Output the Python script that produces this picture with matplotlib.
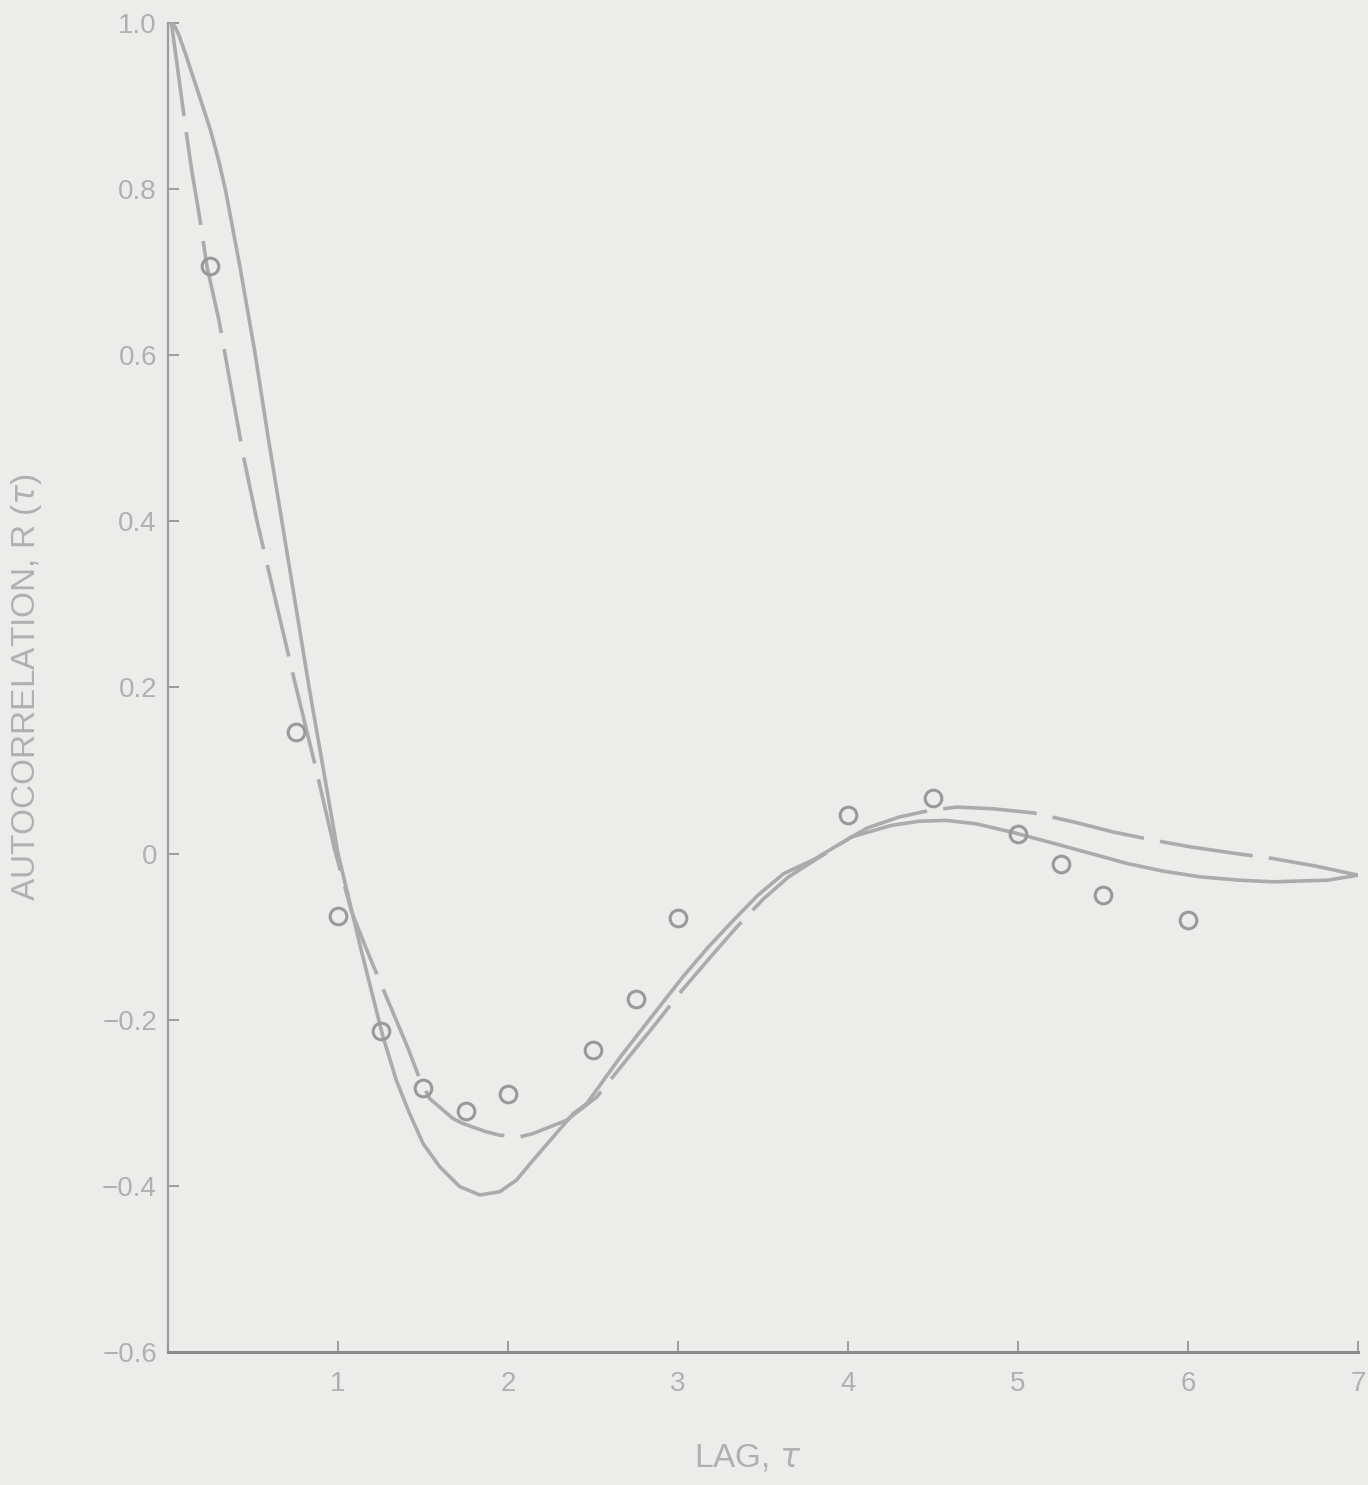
#%% imports

import numpy as np
import matplotlib.pyplot as plt

#%% data

# measured autocorrelation (open circles)
lag_obs = [0.25, 0.75, 1.0, 1.25, 1.5, 1.75, 2.0, 2.5, 2.75, 3.0,
           4.0, 4.5, 5.0, 5.25, 5.5, 6.0]
r_obs = [0.708, 0.146, -0.075, -0.214, -0.282, -0.310, -0.289, -0.236,
         -0.175, -0.077, 0.047, 0.067, 0.023, -0.012, -0.050, -0.080]

# solid curve
lag_solid = [0.02, 0.04, 0.065, 0.106, 0.183, 0.25, 0.30, 0.34, 0.42, 0.51,
             0.59, 0.67, 0.75, 0.83, 0.915, 1.0, 1.136, 1.264,
             1.343, 1.421, 1.50, 1.598, 1.716, 1.834, 1.952, 2.05, 2.148,
             2.266, 2.384, 2.463, 2.66, 2.85, 3.03, 3.18, 3.327, 3.47,
             3.622, 3.80, 4.02, 4.255, 4.42, 4.575, 4.75, 4.96, 5.216,
             5.43, 5.643, 5.85, 6.07, 6.30, 6.50, 6.82, 7.0]
r_solid = [1.0, 0.996, 0.985, 0.961, 0.913, 0.871, 0.833, 0.797, 0.71, 0.605,
           0.50, 0.40, 0.30, 0.20, 0.10, 0.0, -0.116, -0.220,
           -0.273, -0.313, -0.349, -0.377, -0.401, -0.411, -0.407, -0.393,
           -0.369, -0.341, -0.313, -0.301, -0.245, -0.195, -0.148, -0.112,
           -0.080, -0.050, -0.024, -0.007, 0.020, 0.034, 0.039, 0.040,
           0.036, 0.026, 0.012, 0.0, -0.012, -0.021, -0.028, -0.032,
           -0.034, -0.032, -0.026]

# dashed curve
lag_dash = [0.02, 0.06, 0.106, 0.14, 0.183, 0.23, 0.30, 0.37,
            0.448, 0.525, 0.635, 0.743, 0.873, 0.98, 1.08, 1.185, 1.30,
            1.411, 1.48, 1.539, 1.676, 1.735, 1.873, 1.95, 2.07, 2.148,
            2.345, 2.522, 2.69, 2.856, 3.03, 3.21, 3.347, 3.5, 3.65, 3.85,
            4.02, 4.115, 4.30, 4.48, 4.64, 4.85, 5.09, 5.33, 5.56, 5.8,
            6.017, 6.25, 6.50, 6.75, 7.0]
r_dash = [1.0, 0.94, 0.87, 0.822, 0.77, 0.706, 0.642, 0.562,
          0.474, 0.399, 0.303, 0.209, 0.10, 0.005, -0.07, -0.124, -0.18,
          -0.234, -0.271, -0.295, -0.319, -0.325, -0.335, -0.339, -0.341,
          -0.337, -0.321, -0.293, -0.25, -0.208, -0.163, -0.12, -0.088,
          -0.055, -0.028, -0.002, 0.020, 0.031, 0.044, 0.052, 0.056, 0.054,
          0.049, 0.038, 0.026, 0.016, 0.008, 0.001, -0.006, -0.015, -0.026]

xticks = [1, 2, 3, 4, 5, 6, 7]
yticks = [-0.6, -0.4, -0.2, 0.0, 0.2, 0.4, 0.6, 0.8, 1.0]
ytick_labels = ['\u22120.6', '\u22120.4', '\u22120.2', '0', '0.2', '0.4',
                '0.6', '0.8', '1.0']

#%% plot

plt.rcParams['font.family'] = ['Liberation Sans', 'DejaVu Sans']
plt.rcParams['mathtext.fontset'] = 'dejavusans'

paper = '#ececeb'
ink = '#ababab'
text_ink = '#b0b0b0'

fig = plt.figure(figsize=(13.68, 14.85), dpi=100, facecolor=paper)
ax = fig.add_axes([0.1228, 0.0896, 0.87, 0.8949], facecolor=paper)

ax.plot(lag_solid, r_solid, color=ink, lw=2.6, solid_capstyle='round',
        solid_joinstyle='round')
ax.plot(lag_dash, r_dash, color=ink, lw=2.6, dashes=(26, 4.5),
        dash_joinstyle='round')
ax.plot(lag_obs, r_obs, 'o', ms=12, mfc='none', mec='#999999', mew=2.2)

ax.set_xlim(0, 7)
ax.set_ylim(-0.6, 1.0)
ax.set_xticks(xticks)
ax.set_yticks(yticks)
ax.set_yticklabels(ytick_labels)

for side in ['top', 'right']:
    ax.spines[side].set_visible(False)
ax.spines['left'].set_color('#9c9c9c')
ax.spines['bottom'].set_color('#8c8c8c')
ax.spines['left'].set_linewidth(1.6)
ax.spines['bottom'].set_linewidth(2.2)

ax.tick_params(axis='both', direction='in', length=8, width=1.4,
               color='#9c9c9c', labelcolor=text_ink, labelsize=20)
ax.tick_params(axis='x', pad=14)
ax.tick_params(axis='y', pad=8)

ax.set_xlabel(r'LAG, $\mathit{\tau}$', fontsize=24, color=text_ink)
ax.xaxis.set_label_coords(0.487, -0.068)
ax.set_ylabel(r'AUTOCORRELATION, R ($\mathit{\tau}$)', fontsize=24,
              color=text_ink)
ax.yaxis.set_label_coords(-0.104, 0.50)

fig.savefig('out.png', dpi=100, facecolor=paper)
